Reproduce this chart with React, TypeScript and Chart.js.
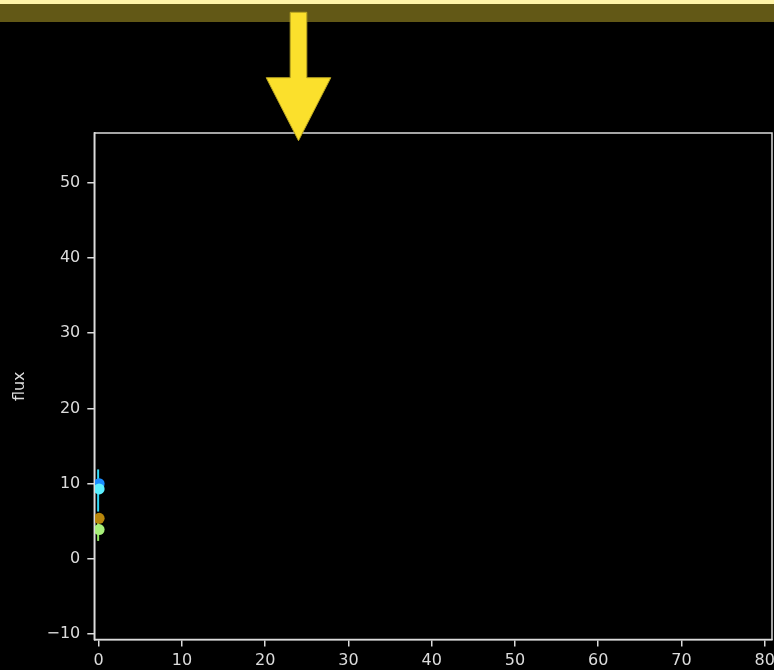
import React, { useEffect, useRef } from "react";
import { Chart, registerables } from "chart.js";

Chart.register(...registerables);

// Flux measurements near t = 0
const pointX = [0.05, 0.05, 0.05, 0.05];
const fluxValues = [10.0, 9.3, 5.4, 3.9];
const fluxLow = [null, 6.3, null, 2.4];
const fluxHigh = [null, 11.9, null, 5.3];
const pointColors = ["#1a8cff", "#5cf0ff", "#b8860b", "#a8f07a"];
const barColors = ["#1a8cff", "#30d8f5", "#b8860b", "#8fe860"];

// Axis ticks and ranges
const xTicks = [0, 10, 20, 30, 40, 50, 60, 70, 80];
const yTicks = [-10, 0, 10, 20, 30, 40, 50];
const xRange = [-0.53, 80.88];
const yRange = [-10.7, 56.6];

// Marker position of the pointer arrow
const arrowX = 24;

const FG = "#dcdcdc";

const framePlugin = {
  id: "frameAndDecor",
  beforeDraw(chart: any) {
    const { ctx, width, height } = chart;
    ctx.save();
    ctx.fillStyle = "#000000";
    ctx.fillRect(0, 0, width, height);
    ctx.fillStyle = "#fff4a8";
    ctx.fillRect(0, 0, width, 4);
    ctx.fillStyle = "#625816";
    ctx.fillRect(0, 4, width, 18);
    ctx.restore();
  },
  beforeDatasetsDraw(chart: any) {
    const { ctx, scales } = chart;
    const xs = scales.x;
    const ys = scales.y;
    ctx.save();
    ctx.lineWidth = 2;
    for (let i = 0; i < fluxValues.length; i++) {
      const lo = fluxLow[i];
      const hi = fluxHigh[i];
      if (lo == null || hi == null) continue;
      const px = xs.getPixelForValue(pointX[i]) - 1;
      ctx.strokeStyle = barColors[i];
      ctx.beginPath();
      ctx.moveTo(px, ys.getPixelForValue(lo));
      ctx.lineTo(px, ys.getPixelForValue(hi));
      ctx.stroke();
    }
    ctx.restore();
  },
  afterDraw(chart: any) {
    const { ctx, chartArea, scales } = chart;
    ctx.save();
    // plot frame
    ctx.strokeStyle = FG;
    ctx.lineWidth = 1.5;
    ctx.strokeRect(chartArea.left, chartArea.top, chartArea.right - chartArea.left, chartArea.bottom - chartArea.top);
    // pointer arrow
    const ax = scales.x.getPixelForValue(arrowX);
    ctx.fillStyle = "#fbe02c";
    ctx.strokeStyle = "#b8a420";
    ctx.lineWidth = 1;
    ctx.beginPath();
    ctx.moveTo(ax - 8.3, 12.3);
    ctx.lineTo(ax + 8.3, 12.3);
    ctx.lineTo(ax + 8.3, 77.7);
    ctx.lineTo(ax + 32.3, 77.7);
    ctx.lineTo(ax, 140.7);
    ctx.lineTo(ax - 32.3, 77.7);
    ctx.lineTo(ax - 8.3, 77.7);
    ctx.closePath();
    ctx.fill();
    ctx.stroke();
    ctx.restore();
  },
};

export default function App() {
  const canvasRef = useRef<HTMLCanvasElement | null>(null);

  useEffect(() => {
    document.body.style.margin = "0";
    document.body.style.background = "#000";
    const canvas = canvasRef.current;
    if (!canvas) return;

    const datasets = fluxValues.map((v, i) => ({
      label: `flux ${i + 1}`,
      data: [{ x: pointX[i], y: v }],
      backgroundColor: pointColors[i],
      borderColor: pointColors[i],
      borderWidth: 0,
      pointRadius: 5.5,
      pointHoverRadius: 5.5,
      order: fluxValues.length - i,
    }));

    const tickFont = { family: "DejaVu Sans", size: 16 };

    const chart = new Chart(canvas, {
      type: "scatter",
      data: { datasets },
      plugins: [framePlugin],
      options: {
        responsive: false,
        animation: false,
        devicePixelRatio: 1,
        events: [],
        layout: { autoPadding: false, padding: { top: 133, right: 2, left: 0, bottom: 0 } },
        plugins: {
          legend: { display: false },
          tooltip: { enabled: false },
        },
        scales: {
          x: {
            type: "linear",
            min: xRange[0],
            max: xRange[1],
            afterBuildTicks: (scale: any) => {
              scale.ticks = xTicks.map((v) => ({ value: v }));
            },
            afterFit: (scale: any) => {
              scale.height = 30.5;
              scale.paddingLeft = 0;
              scale.paddingRight = 0;
            },
            grid: {
              drawOnChartArea: false,
              drawTicks: true,
              tickLength: 7,
              tickColor: FG,
              lineWidth: 1.5,
            },
            border: { display: true, color: FG, width: 1.5 },
            ticks: {
              color: FG,
              font: tickFont,
              padding: 5,
              maxRotation: 0,
              autoSkip: false,
              callback: (v: any) => String(v),
            },
          },
          y: {
            type: "linear",
            min: yRange[0],
            max: yRange[1],
            afterBuildTicks: (scale: any) => {
              scale.ticks = yTicks.map((v) => ({ value: v }));
            },
            afterFit: (scale: any) => {
              scale.width = 94.3;
              scale.paddingTop = 0;
              scale.paddingBottom = 0;
            },
            grid: {
              drawOnChartArea: false,
              drawTicks: true,
              tickLength: 7,
              tickColor: FG,
              lineWidth: 1.5,
            },
            border: { display: true, color: FG, width: 1.5 },
            ticks: {
              color: FG,
              font: tickFont,
              padding: 7,
              autoSkip: false,
              callback: (v: any) => (v < 0 ? "\u2212" + String(-v) : String(v)),
            },
            title: {
              display: true,
              text: "flux",
              color: FG,
              font: tickFont,
              padding: { top: 10, bottom: 0 },
            },
          },
        },
      },
    });

    return () => chart.destroy();
  }, []);

  return (
    <div style={{ position: "fixed", left: 0, top: 0, width: 774, height: 670, background: "#000" }}>
      <canvas ref={canvasRef} width={774} height={670} style={{ display: "block", width: 774, height: 670 }} />
    </div>
  );
}
